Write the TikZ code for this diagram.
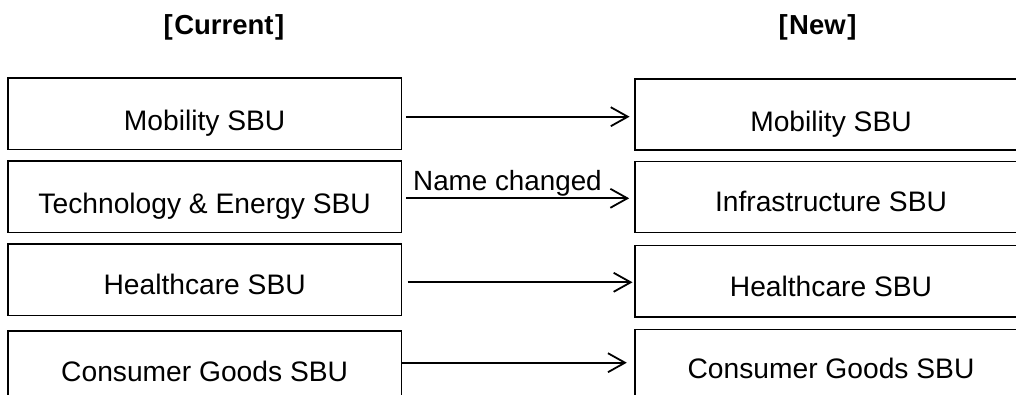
\documentclass[tikz,border=0pt]{standalone}
\usepackage{fontspec}
\setmainfont{Liberation Sans}
\usetikzlibrary{arrows.meta,calc}
\begin{document}
\begin{tikzpicture}[x=1pt,y=-1pt,
  sbox/.style={draw=black,line width=1.6pt,inner sep=0pt,minimum height=71.3pt},
  lbox/.style={sbox,minimum width=393.3pt},
  rbox/.style={sbox,minimum width=392pt},
  lbl/.style={anchor=base,inner sep=0pt,font=\fontsize{28.2}{33}\selectfont},
  ttl/.style={anchor=base,inner sep=0pt,font=\fontsize{27.5}{32}\selectfont\bfseries},
  arr/.style={line width=1.8pt,-{Straight Barb[length=17pt,width=19pt,line width=1.8pt]}}]
\useasboundingbox (0,0) rectangle (1016,394);
\clip (0,0) rectangle (1016,394);
% titles
\node[ttl] (tc) at (224,34.3) {[\kern1.5pt Current\kern1.5pt]};
\node[ttl] (tn) at (817.5,34) {[\kern1.5pt New\kern1.5pt]};
% left boxes
\node[lbox] (L1) at (204.65,113.65) {};
\node[lbox] (L2) at (204.65,196.65) {};
\node[lbox] (L3) at (204.65,279.65) {};
\node[lbox] (L4) at (204.65,366.35) {};
% right boxes
\node[rbox] (R1) at (831,114.5) {};
\node[rbox] (R2) at (831,197) {};
\node[rbox] (R3) at (831,281.15) {};
\node[rbox] (R4) at (831,365.15) {};
% labels
\node[lbl] (tL1) at (204.65,130) {Mobility SBU};
\node[lbl] (tL2) at (204.65,213) {Technology \& Energy SBU};
\node[lbl] (tL3) at (204.65,294.3) {Healthcare SBU};
\node[lbl] (tL4) at (204.65,381.7) {Consumer Goods SBU};
\node[lbl] (tR1) at (831,131) {Mobility SBU};
\node[lbl] (tR2) at (831,211.7) {Infrastructure SBU};
\node[lbl] (tR3) at (831,296.7) {Healthcare SBU};
\node[lbl] (tR4) at (831,378) {Consumer Goods SBU};
% arrows
\draw[arr] ([xshift=4pt,yshift=-3.05pt]L1.east) -- ([xshift=-4.6pt,yshift=-3.05pt]L1.east -| R1.west);
\draw[arr] ([xshift=4pt,yshift=-1.65pt]L2.east) -- ([xshift=-5pt,yshift=-1.65pt]L2.east -| R2.west);
\draw[arr] ([xshift=5.4pt,yshift=-2.65pt]L3.east) -- ([xshift=-1.7pt,yshift=-2.65pt]L3.east -| R3.west);
\draw[arr] ([yshift=3.65pt]L4.east) -- ([xshift=-7.4pt,yshift=3.65pt]L4.east -| R4.west);
\node[lbl,anchor=base west,font=\fontsize{27.8}{33}\selectfont] (nc) at (413,190.7) {Name changed};
\end{tikzpicture}
\end{document}
